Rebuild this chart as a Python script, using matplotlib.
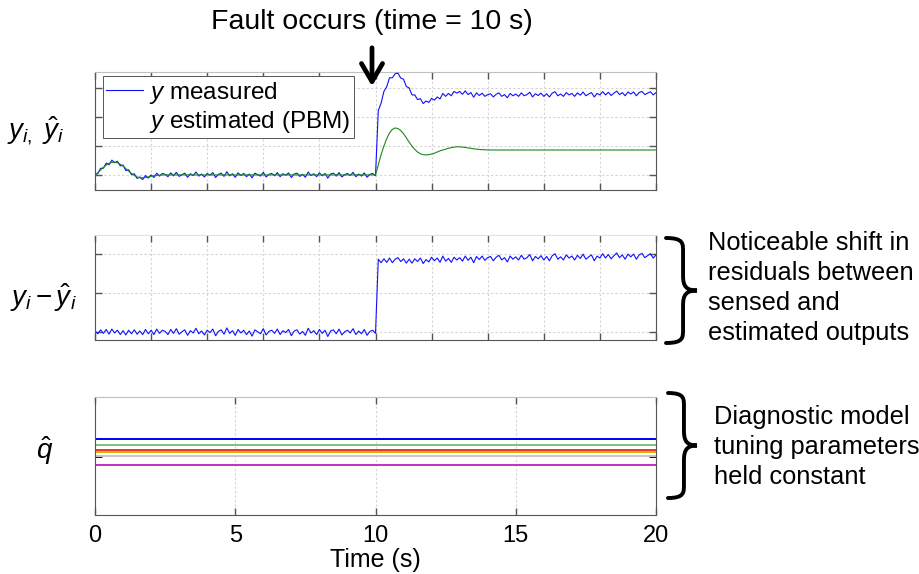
import numpy as np
import matplotlib
matplotlib.use('Agg')
import matplotlib.pyplot as plt
from matplotlib.lines import Line2D
from matplotlib.path import Path
from matplotlib.patches import PathPatch

plt.rcParams['font.family'] = ['Liberation Sans', 'DejaVu Sans']
plt.rcParams['mathtext.fontset'] = 'custom'
plt.rcParams['mathtext.rm'] = 'Liberation Sans'
plt.rcParams['mathtext.it'] = 'Liberation Sans:italic'

# tempo (s), passo de 0.1 s
time = np.arange(201) * 0.1

# saida estimada (PBM)
est_inicio = [0.00, 0.08, 0.17, 0.26, 0.34, 0.40, 0.43, 0.44, 0.42, 0.37,
              0.30, 0.22, 0.13, 0.05, -0.02, -0.07, -0.10, -0.10, -0.09, -0.07,
              -0.05, -0.03, -0.02, -0.01, 0.00]
est_falha = [0.35, 0.70, 1.00, 1.25, 1.45, 1.57, 1.62, 1.60, 1.53, 1.42,
             1.28, 1.13, 0.99, 0.88, 0.79, 0.73, 0.70, 0.69, 0.70, 0.72,
             0.75, 0.79, 0.83, 0.86, 0.89, 0.92, 0.94, 0.96, 0.97, 0.97,
             0.96, 0.95, 0.93, 0.92, 0.90, 0.89, 0.88, 0.87, 0.87, 0.86]
y_est = np.array(est_inicio + [0.00] * 76 + est_falha + [0.86] * 60)

med_inicio = [0.03, 0.04, 0.23, 0.23, 0.41, 0.35, 0.51, 0.42, 0.47, 0.31,
              0.34, 0.15, 0.18, 0.01, 0.04, -0.12, -0.07, -0.16, -0.02, -0.11,
              0.00, -0.09, 0.06, -0.04, 0.05]
med_antes = [0.02, -0.06, 0.07, -0.03, 0.09, -0.05, 0.01, 0.06, -0.08, 0.04,
             -0.02, 0.10, -0.04, 0.03, -0.07, 0.05, -0.01, 0.08, -0.09, 0.02,
             0.06, -0.05, 0.11, -0.03, 0.04, -0.08, 0.07, -0.02, 0.05, -0.06,
             0.03, -0.10, 0.06, 0.01, -0.04, 0.09, -0.07, 0.02, 0.05, -0.03,
             0.08, -0.06, 0.04, -0.01, 0.07, -0.09, 0.03, 0.06, -0.05, 0.02,
             -0.08, 0.10, -0.02, 0.04, -0.06, 0.07, -0.03, 0.05, -0.11, 0.03,
             0.06, -0.04, 0.08, -0.07, 0.01, 0.05, -0.02, 0.09, -0.06, 0.03,
             -0.04, 0.07, -0.08, 0.02, 0.05, -0.03]
med_falha = [2.22, 2.48, 2.88, 3.04, 3.35, 3.35, 3.49, 3.51, 3.34, 3.30,
             3.05, 3.00, 2.76, 2.76, 2.60, 2.63, 2.46, 2.55, 2.50, 2.64,
             2.58, 2.69, 2.62, 2.81, 2.71, 2.81, 2.73, 2.88, 2.82, 2.88,
             2.78, 2.90, 2.77, 2.84, 2.68, 2.83, 2.74, 2.82, 2.71, 2.77]
med_final = [2.80, 2.69, 2.78, 2.83, 2.71, 2.77, 2.66, 2.81, 2.73, 2.79,
             2.71, 2.83, 2.73, 2.77, 2.85, 2.69, 2.80, 2.74, 2.82, 2.71,
             2.80, 2.69, 2.82, 2.87, 2.73, 2.79, 2.71, 2.84, 2.76, 2.81,
             2.71, 2.83, 2.75, 2.86, 2.73, 2.79, 2.84, 2.69, 2.81, 2.76,
             2.87, 2.76, 2.85, 2.74, 2.82, 2.89, 2.77, 2.84, 2.73, 2.86,
             2.79, 2.86, 2.73, 2.84, 2.88, 2.77, 2.82, 2.87, 2.76, 2.84]
y_med = np.array(med_inicio + med_antes + med_falha + med_final)

residuo = y_med - y_est

# parametros do modelo de diagnostico (constantes)
q_niveis = [0.283, 0.186, 0.097, 0.063, 0.0, -0.147]
q_cores = ['#0000ee', '#80c080', '#ee3322', '#e0b000', '#c8c8c8', '#c030c0']

W, H = 920, 574
fig = plt.figure(figsize=(W / 100, H / 100), dpi=100)


def caixa(px_left, px_top, px_right, px_bottom):
    return [px_left / W, 1 - px_bottom / H, (px_right - px_left) / W, (px_bottom - px_top) / H]


ax1 = fig.add_axes(caixa(95, 72, 656, 190))
ax2 = fig.add_axes(caixa(95, 235, 656, 340))
ax3 = fig.add_axes(caixa(95, 397, 656, 515))

for ax in (ax1, ax2, ax3):
    ax.set_xlim(0, 20)
    ax.tick_params(direction='in', length=5, width=1, color='#555555',
                   top=True, right=True, labelsize=17)
    ax.grid(True, color='#d4d4d4', linestyle=(0, (2, 2)), linewidth=0.8)
    for s in ('left', 'right', 'bottom'):
        ax.spines[s].set_color('#555555')
    ax.spines['top'].set_color('#c0c0c0')

# painel de cima
ax1.plot(time, y_med, color='#1010ff', lw=0.8, zorder=3)
ax1.plot(time, y_est, color='#1a8a1a', lw=0.8, zorder=4)
ax1.set_ylim(-0.52, 3.55)
ax1.set_xticks(np.arange(0, 21, 2))
ax1.set_yticks([0, 1, 2, 3])
ax1.tick_params(labelbottom=False, labelleft=False)
handles = [Line2D([], [], color='#1010ff', lw=0.8), Line2D([], [], color='none')]
leg = ax1.legend(handles, ['$y$ measured', '$y$ estimated (PBM)'], loc='upper left',
                 bbox_to_anchor=(0.014, 0.965), borderaxespad=0, fontsize=17.5,
                 handlelength=1.5, handletextpad=0.25, labelspacing=0.12,
                 borderpad=0.15, fancybox=False, framealpha=1)
leg.get_frame().set_edgecolor('#555555')
leg.get_frame().set_linewidth(0.7)

# painel do meio
ax2.plot(time, residuo, color='#1010ff', lw=0.8)
ax2.set_ylim(-0.2, 2.49)
ax2.set_xticks(np.arange(0, 21, 2))
ax2.set_yticks([0, 1, 2])
ax2.tick_params(labelbottom=False, labelleft=False)
ax2.spines['top'].set_color('#e0e0e0')

# painel de baixo
for nivel, cor in zip(q_niveis, q_cores):
    ax3.axhline(nivel, color=cor, lw=1.4)
ax3.set_ylim(-1, 1)
ax3.set_xticks([0, 5, 10, 15, 20])
ax3.set_yticks([0])
ax3.tick_params(axis='y', color='black', width=2, labelleft=False)
ax3.tick_params(axis='x', pad=7)
ax3.set_xlabel('Time (s)', fontsize=18, labelpad=1)

# rotulos dos eixos
fig.text(36 / W, 1 - 131 / H, r'$y_{i,}\ \hat{y}_i$', fontsize=20, ha='center', va='center')
fig.text(43 / W, 1 - 298 / H, r'$y_i - \hat{y}_i$', fontsize=20, ha='center', va='center')
fig.text(45 / W, 1 - 451 / H, r'$\hat{q}$', fontsize=20, ha='center', va='center')

# titulo e seta
fig.text(372 / W, 1 - 22 / H, 'Fault occurs (time = 10 s)', fontsize=20.5, ha='center', va='center')
fig.patches.append(matplotlib.patches.FancyArrowPatch(
    (372 / W, 1 - 45 / H), (372 / W, 1 - 89 / H), transform=fig.transFigure,
    arrowstyle='->,head_length=0.65,head_width=0.38', mutation_scale=20,
    lw=3.4, color='black'))


def chave(xl, xr, yt, yb):
    xm = xl + (xr - xl) * 0.55
    ym = (yt + yb) / 2
    r = (yb - yt) * 0.14
    pts = [(xl, yt), (xm + 1, yt), (xm, yt + r * 0.4), (xm, yt + r),
           (xm, ym - r),
           (xm, ym - r * 0.3), (xm + 3, ym), (xr, ym),
           (xm + 3, ym), (xm, ym + r * 0.3), (xm, ym + r),
           (xm, yb - r),
           (xm, yb - r * 0.4), (xm + 1, yb), (xl, yb)]
    codes = [Path.MOVETO, Path.CURVE4, Path.CURVE4, Path.CURVE4, Path.LINETO,
             Path.CURVE4, Path.CURVE4, Path.CURVE4, Path.CURVE4, Path.CURVE4, Path.CURVE4,
             Path.LINETO, Path.CURVE4, Path.CURVE4, Path.CURVE4]
    pts = [(x / W, 1 - y / H) for x, y in pts]
    fig.patches.append(PathPatch(Path(pts, codes), transform=fig.transFigure,
                                 fill=False, lw=2.8, color='black', capstyle='round'))


chave(666, 697, 238, 343)
chave(668, 697, 393, 498)

fig.text(708 / W, 1 - 288 / H, 'Noticeable shift in\nresiduals between\nsensed and\nestimated outputs',
         fontsize=18.3, ha='left', va='center', linespacing=1.3)
fig.text(714 / W, 1 - 447 / H, 'Diagnostic model\ntuning parameters\nheld constant',
         fontsize=18.3, ha='left', va='center', linespacing=1.3)

fig.savefig('out.png', dpi=100)
